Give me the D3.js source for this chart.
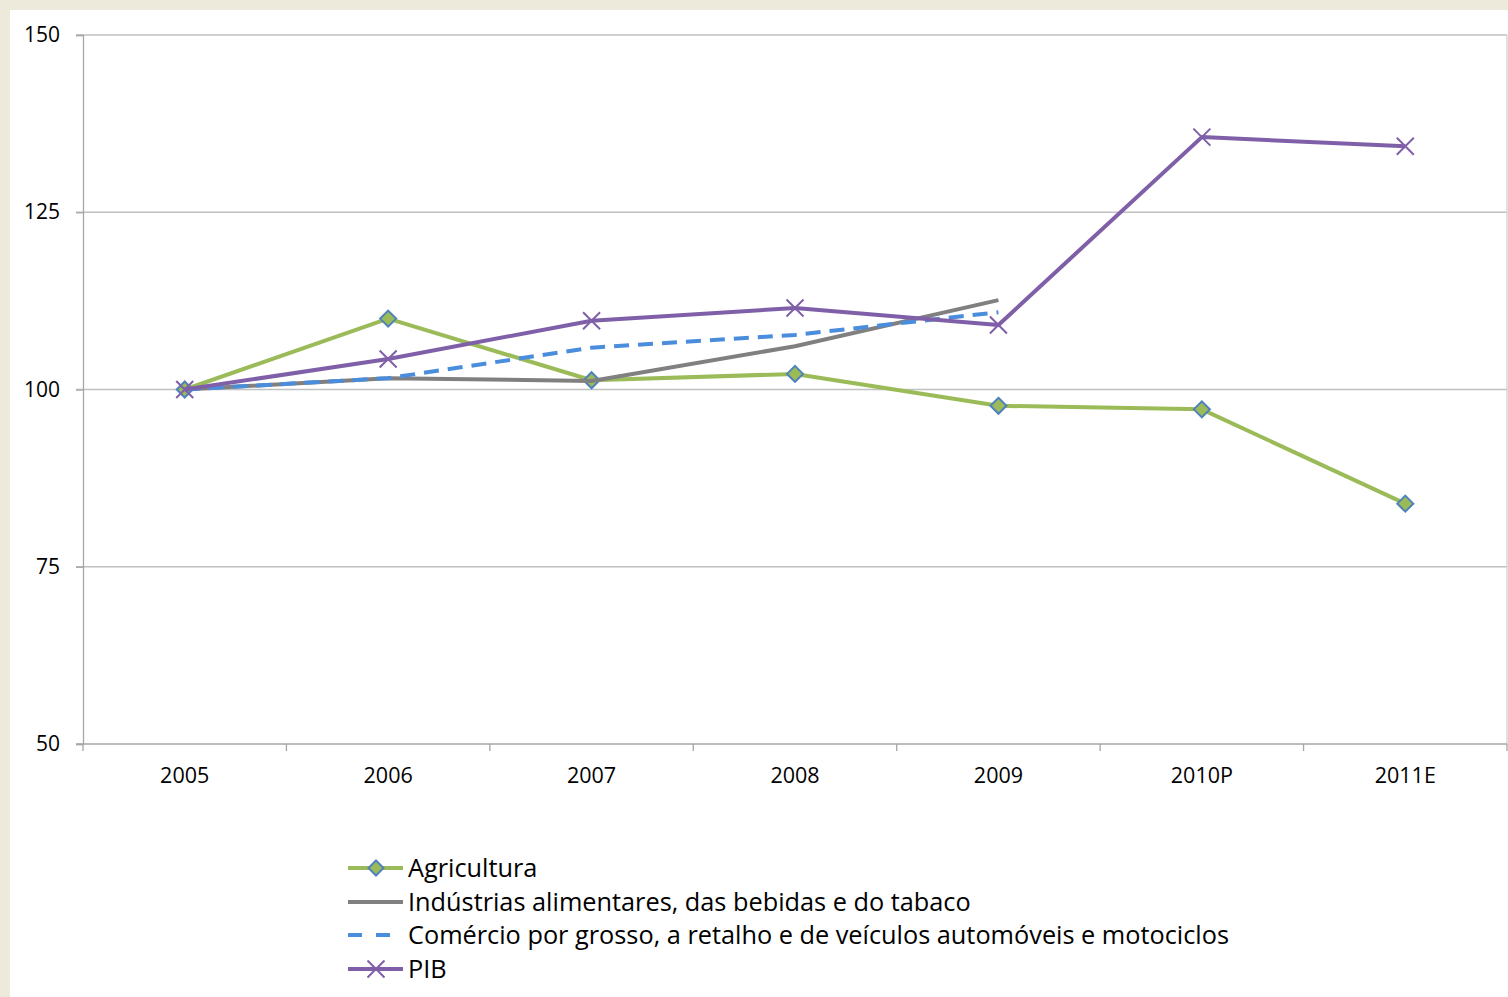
<!DOCTYPE html>
<html><head><meta charset="utf-8">
<script src="https://cdn.jsdelivr.net/npm/d3@7"></script>
<style>
html,body{margin:0;padding:0;background:#EEEADB;}
svg{display:block;}
</style></head>
<body>
<svg id="c" width="1508" height="997"></svg>
<script>
(function(){
const categories = ["2005","2006","2007","2008","2009","2010P","2011E"];
const agricultura = [100, 110.0, 101.3, 102.2, 97.7, 97.2, 83.9];
const industrias = [100, 101.6, 101.2, 106.1, 112.6, null, null];
const comercio = [100, 101.6, 105.9, 107.7, 110.9, null, null];
const pib = [100, 104.3, 109.7, 111.5, 109.1, 135.6, 134.3];
const yTicks = [50, 75, 100, 125, 150];
const seriesNames = ["Agricultura","Indústrias alimentares, das bebidas e do tabaco","Comércio por grosso, a retalho e de veículos automóveis e motociclos","PIB"];

const series = [
  {name: seriesNames[0], values: agricultura, color: "#9BBB59", dash: null, marker: "diamond"},
  {name: seriesNames[1], values: industrias, color: "#808080", dash: null, marker: null},
  {name: seriesNames[2], values: comercio, color: "#4A8DDC", dash: "15,9", marker: null},
  {name: seriesNames[3], values: pib, color: "#7F5FA8", dash: null, marker: "x"}
];

const svg = d3.select("#c");
const font = "'Open Sans', 'DejaVu Sans', sans-serif";
svg.append("rect").attr("x",10).attr("y",10).attr("width",1498).attr("height",987).attr("fill","#fff");

const pL = 83, pR = 1507, pT = 35, pB = 744;
const x = d3.scaleBand().domain(categories).range([pL, pR]);
const y = d3.scaleLinear().domain([50,150]).range([pB, pT]);

// gridlines
svg.append("g").selectAll("line").data(yTicks.filter(d=>d!==50)).join("line")
  .attr("x1", pL-7).attr("x2", pR).attr("y1", d=>y(d)).attr("y2", d=>y(d))
  .attr("stroke", "#C0C0C0").attr("stroke-width", 1.3);

// y axis
const yAxis = svg.append("g").attr("transform", `translate(${pL},0)`)
  .call(d3.axisLeft(y).tickValues(yTicks).tickSize(7).tickPadding(16));
yAxis.select(".domain").attr("stroke","#A6A6A6").attr("stroke-width",1.3);
yAxis.selectAll(".tick line").attr("stroke","#A6A6A6").attr("stroke-width",1.3);
yAxis.selectAll("text").attr("font-family", font).attr("font-size", 21).attr("fill","#000");

// right border line
svg.append("line").attr("x1", pR).attr("x2", pR).attr("y1", pT).attr("y2", pB)
  .attr("stroke","#D0D0D0").attr("stroke-width",1.3);

// x axis
const xAxis = svg.append("g").attr("transform", `translate(0,${pB})`)
  .call(d3.axisBottom(x).tickSize(0).tickPadding(24));
xAxis.select(".domain").remove();
xAxis.selectAll("text").attr("font-family", font).attr("font-size", 21.5).attr("fill","#000");
const bounds = categories.map(c => x(c)).concat([pR]);
svg.append("line").attr("x1", pL-7).attr("x2", pR).attr("y1", pB).attr("y2", pB)
  .attr("stroke","#A6A6A6").attr("stroke-width",1.3);
svg.append("g").selectAll("line").data(bounds).join("line")
  .attr("x1", d=>d).attr("x2", d=>d).attr("y1", pB).attr("y2", pB+7)
  .attr("stroke","#A6A6A6").attr("stroke-width",1.3);

const cx = c => x(c) + x.bandwidth()/2;
const line = d3.line().defined(d => d.v !== null).x(d => cx(d.c)).y(d => y(d.v));

function drawMarker(g, type, px, py, color, s) {
  if (type === "diamond") {
    g.append("path").attr("d", `M${px},${py-s}L${px+s},${py}L${px},${py+s}L${px-s},${py}Z`)
      .attr("fill","#9BBB59").attr("stroke","#4F81BD").attr("stroke-width",2);
  } else if (type === "x") {
    g.append("path").attr("d", `M${px-s},${py-s}L${px+s},${py+s}M${px-s},${py+s}L${px+s},${py-s}`)
      .attr("stroke", color).attr("stroke-width",2).attr("fill","none");
  }
}

series.forEach(s => {
  const pts = categories.map((c,i) => ({c, v: s.values[i]}));
  const g = svg.append("g");
  g.append("path").datum(pts).attr("d", line).attr("fill","none")
    .attr("stroke", s.color).attr("stroke-width", 4)
    .attr("stroke-dasharray", s.dash).attr("stroke-linejoin","round");
  if (s.marker) {
    pts.filter(p => p.v !== null).forEach(p => drawMarker(g, s.marker, cx(p.c), y(p.v), s.color, s.marker==="diamond"?8:8.5));
  }
});

// legend
const lg = svg.append("g");
const rowY = [868, 902, 935, 969];
series.forEach((s, i) => {
  const yy = rowY[i];
  lg.append("line").attr("x1", 348).attr("x2", s.dash ? 390 : 403).attr("y1", yy).attr("y2", yy)
    .attr("stroke", s.color).attr("stroke-width", 4).attr("stroke-dasharray", s.dash ? "14,14" : null);
  if (s.marker) drawMarker(lg, s.marker, 376, yy, s.color, s.marker==="diamond"?7.5:8.5);
  lg.append("text").attr("x", 408).attr("y", yy).attr("dy","0.35em")
    .attr("font-family", font).attr("font-size", 25.3).attr("fill","#000").text(s.name);
});
})();
</script>
</body></html>
